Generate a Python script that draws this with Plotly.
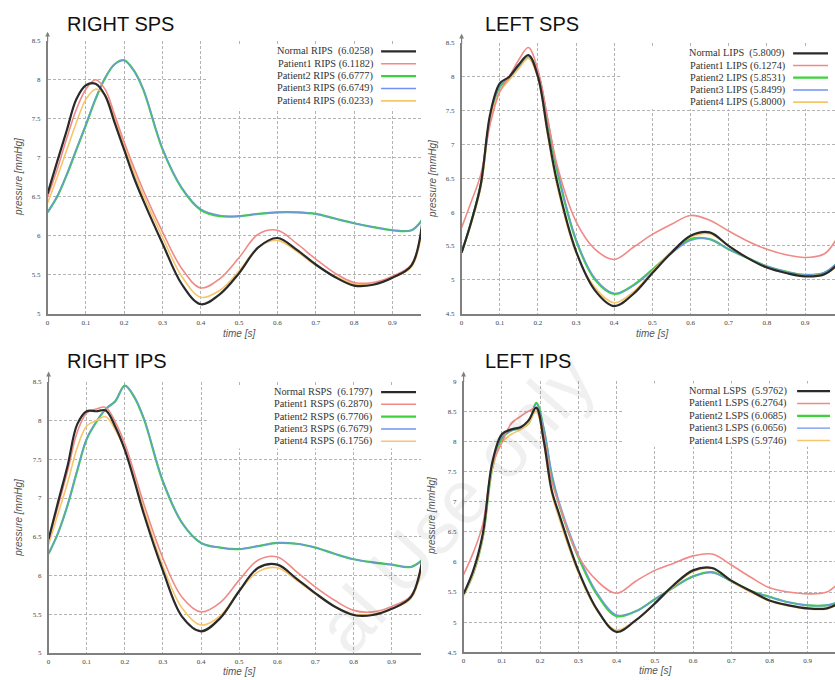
import plotly.graph_objects as go

W, H = 835, 680

# ---------------- data ----------------
T = [0, 0.025, 0.05, 0.075, 0.1, 0.125, 0.15, 0.175, 0.2, 0.225, 0.25, 0.3, 0.35, 0.4,
     0.45, 0.5, 0.55, 0.6, 0.65, 0.7, 0.75, 0.8, 0.85, 0.9, 0.95, 0.98]
T_D = [0, 0.025, 0.05, 0.075, 0.1, 0.125, 0.15, 0.17, 0.19, 0.21, 0.23, 0.25, 0.3, 0.35, 0.4,
       0.45, 0.5, 0.55, 0.6, 0.65, 0.7, 0.75, 0.8, 0.85, 0.9, 0.95, 0.98]

series_names = ["Normal", "Patient1", "Patient2", "Patient3", "Patient4"]

# RIGHT SPS (RIPS)
rips_normal = [6.54, 6.95, 7.35, 7.75, 7.93, 7.95, 7.80, 7.45, 7.10, 6.75, 6.45, 5.90, 5.38, 5.12,
               5.25, 5.52, 5.85, 5.97, 5.82, 5.63, 5.47, 5.36, 5.37, 5.46, 5.62, 6.25]
rips_p1 = [6.50, 6.85, 7.25, 7.62, 7.88, 8.00, 7.88, 7.55, 7.20, 6.88, 6.58, 6.05, 5.58, 5.33,
           5.45, 5.72, 6.02, 6.07, 5.90, 5.70, 5.52, 5.40, 5.40, 5.48, 5.63, 6.22]
rips_p2 = [6.30, 6.50, 6.78, 7.10, 7.42, 7.75, 8.02, 8.20, 8.25, 8.12, 7.87, 7.11, 6.61, 6.33,
           6.25, 6.25, 6.28, 6.30, 6.30, 6.28, 6.22, 6.16, 6.11, 6.07, 6.07, 6.22]
rips_p3 = [6.30, 6.51, 6.79, 7.11, 7.43, 7.76, 8.03, 8.20, 8.25, 8.12, 7.88, 7.12, 6.62, 6.34,
           6.26, 6.25, 6.28, 6.30, 6.30, 6.28, 6.22, 6.16, 6.11, 6.07, 6.07, 6.22]
rips_p4 = [6.42, 6.75, 7.10, 7.45, 7.75, 7.88, 7.80, 7.50, 7.15, 6.82, 6.52, 5.98, 5.48, 5.21,
           5.30, 5.55, 5.85, 5.94, 5.80, 5.62, 5.48, 5.38, 5.38, 5.46, 5.60, 6.15]
rips_labels = ["Normal RIPS\u00a0\u00a0(6.0258)", "Patient1 RIPS (6.1182)", "Patient2 RIPS (6.6777)",
               "Patient3 RIPS (6.6749)", "Patient4 RIPS (6.0233)"]

# LEFT SPS (LIPS)
lips_normal = [5.40, 5.85, 6.40, 7.45, 7.90, 8.00, 8.18, 8.32, 8.00, 7.20, 6.45, 5.42, 4.84, 4.61,
               4.79, 5.10, 5.40, 5.65, 5.70, 5.50, 5.32, 5.18, 5.10, 5.05, 5.08, 5.20]
lips_p1 = [5.77, 6.15, 6.55, 7.30, 7.78, 8.00, 8.25, 8.43, 8.10, 7.40, 6.70, 5.86, 5.45, 5.30,
           5.48, 5.67, 5.82, 5.95, 5.88, 5.72, 5.57, 5.45, 5.37, 5.33, 5.38, 5.58]
lips_p2 = [5.40, 5.85, 6.40, 7.40, 7.85, 7.98, 8.15, 8.30, 8.05, 7.35, 6.62, 5.58, 5.00, 4.79,
           4.92, 5.15, 5.40, 5.60, 5.60, 5.45, 5.32, 5.20, 5.12, 5.07, 5.10, 5.22]
lips_p3 = [5.40, 5.86, 6.42, 7.42, 7.86, 7.98, 8.15, 8.30, 8.06, 7.38, 6.66, 5.60, 5.02, 4.80,
           4.91, 5.14, 5.39, 5.58, 5.60, 5.45, 5.32, 5.20, 5.12, 5.08, 5.11, 5.23]
lips_p4 = [5.40, 5.83, 6.35, 7.35, 7.78, 7.95, 8.12, 8.27, 7.98, 7.15, 6.40, 5.40, 4.88, 4.66,
           4.82, 5.12, 5.42, 5.63, 5.68, 5.50, 5.32, 5.18, 5.10, 5.06, 5.08, 5.18]
lips_labels = ["Normal LIPS\u00a0\u00a0(5.8009)", "Patient1 LIPS (6.1274)", "Patient2 LIPS (5.8531)",
               "Patient3 LIPS (5.8499)", "Patient4 LIPS (5.8000)"]

# RIGHT IPS (RSPS)
rsps_normal = [6.47, 6.95, 7.42, 7.95, 8.12, 8.12, 8.13, 7.92, 7.62, 7.22, 6.79, 6.06, 5.47, 5.28,
               5.45, 5.80, 6.10, 6.14, 5.96, 5.77, 5.60, 5.49, 5.49, 5.57, 5.72, 6.20]
rsps_p1 = [6.45, 6.90, 7.35, 7.85, 8.10, 8.15, 8.17, 7.98, 7.70, 7.32, 6.92, 6.22, 5.72, 5.53,
           5.65, 5.94, 6.20, 6.24, 6.05, 5.85, 5.68, 5.55, 5.53, 5.60, 5.74, 6.18]
rsps_p2 = [6.28, 6.55, 6.91, 7.35, 7.76, 7.98, 8.15, 8.25, 8.45, 8.30, 8.02, 7.21, 6.68, 6.42,
           6.36, 6.34, 6.38, 6.42, 6.41, 6.36, 6.28, 6.21, 6.17, 6.14, 6.11, 6.20]
rsps_p3 = [6.28, 6.55, 6.92, 7.36, 7.77, 7.99, 8.15, 8.25, 8.45, 8.31, 8.03, 7.22, 6.68, 6.42,
           6.36, 6.34, 6.38, 6.42, 6.41, 6.36, 6.28, 6.21, 6.17, 6.14, 6.11, 6.20]
rsps_p4 = [6.40, 6.80, 7.20, 7.65, 7.93, 8.00, 8.05, 7.88, 7.62, 7.25, 6.85, 6.12, 5.58, 5.36,
           5.48, 5.80, 6.05, 6.10, 5.94, 5.76, 5.60, 5.50, 5.50, 5.57, 5.70, 6.12]
rsps_labels = ["Normal RSPS\u00a0\u00a0(6.1797)", "Patient1 RSPS (6.2870)", "Patient2 RSPS (6.7706)",
               "Patient3 RSPS (6.7679)", "Patient4 RSPS (6.1756)"]

# LEFT IPS (LSPS)
lsps_normal = [5.47, 5.85, 6.46, 7.65, 8.12, 8.20, 8.24, 8.35, 8.56, 8.00, 7.20, 6.79, 5.86, 5.20,
               4.84, 5.03, 5.31, 5.62, 5.86, 5.90, 5.69, 5.52, 5.36, 5.28, 5.23, 5.23, 5.31]
lsps_p1 = [5.79, 6.15, 6.62, 7.60, 7.98, 8.30, 8.42, 8.50, 8.55, 8.10, 7.35, 6.95, 6.10, 5.68,
           5.48, 5.68, 5.86, 5.98, 6.10, 6.13, 5.95, 5.75, 5.57, 5.50, 5.47, 5.50, 5.65]
lsps_p2 = [5.45, 5.80, 6.40, 7.55, 8.05, 8.18, 8.22, 8.30, 8.64, 8.20, 7.45, 6.95, 6.08, 5.45,
           5.10, 5.18, 5.38, 5.58, 5.76, 5.83, 5.68, 5.52, 5.42, 5.33, 5.28, 5.28, 5.33]
lsps_p3 = [5.45, 5.80, 6.40, 7.58, 8.08, 8.18, 8.22, 8.30, 8.62, 8.22, 7.50, 7.00, 6.12, 5.48,
           5.12, 5.18, 5.38, 5.58, 5.76, 5.82, 5.68, 5.52, 5.42, 5.33, 5.28, 5.28, 5.34]
lsps_p4 = [5.45, 5.80, 6.40, 7.55, 7.98, 8.12, 8.20, 8.30, 8.50, 7.95, 7.15, 6.72, 5.82, 5.18,
           4.87, 5.03, 5.30, 5.60, 5.84, 5.89, 5.68, 5.50, 5.35, 5.27, 5.22, 5.22, 5.30]
lsps_labels = ["Normal LSPS\u00a0\u00a0(5.9762)", "Patient1 LSPS (6.2764)", "Patient2 LSPS (6.0685)",
               "Patient3 LSPS (6.0656)", "Patient4 LSPS (5.9746)"]

x_ticks = [0, 0.1, 0.2, 0.3, 0.4, 0.5, 0.6, 0.7, 0.8, 0.9]
watermark_text = "al Use only"

# ---------------- styling ----------------
colors = ["#2a2a2a", "#f08a86", "#3ad43a", "#7390f0", "#f7c56a"]
widths = [2.2, 1.6, 2.2, 1.4, 1.6]
opac = [1, 1, 1, 0.85, 1]
draw_order = [2, 3, 4, 1, 0]


def px(x):
    return x / W


def py(y):
    return 1 - y / H


panels = [
    dict(title="RIGHT SPS", t=T, ys=[rips_normal, rips_p1, rips_p2, rips_p3, rips_p4], labels=rips_labels,
         xpx=(45.7, 420), x0px=45.7, xunit=384.0, ypx=(313.3, 37.3), yr=(5, 8.5), dy=0.5,
         title_xy=(63, 20), ytitle_xy=(17, 175), xtitle_y=333, arrow_y=28,
         box=(0.415, 7.63, 8.46), leg_x=374, line_x=(380, 415), rows=[48, 60.5, 73, 85.5, 98]),
    dict(title="LEFT SPS", t=T, ys=[lips_normal, lips_p1, lips_p2, lips_p3, lips_p4], labels=lips_labels,
         xpx=(460.7, 835), x0px=460.7, xunit=382.5, ypx=(313.3, 39.3), yr=(4.5, 8.5), dy=0.5,
         title_xy=(482, 20), ytitle_xy=(432, 177), xtitle_y=333, arrow_y=30,
         box=(0.416, 7.52, 8.45), leg_x=787, line_x=(793, 828), rows=[50, 62.3, 74.6, 87, 99.3]),
    dict(title="RIGHT IPS", t=T, ys=[rsps_normal, rsps_p1, rsps_p2, rsps_p3, rsps_p4], labels=rsps_labels,
         xpx=(46.7, 420), x0px=46.7, xunit=382.2, ypx=(656.7, 382.3), yr=(5, 8.5), dy=0.5,
         title_xy=(63, 361), ytitle_xy=(17, 520), xtitle_y=675, arrow_y=372,
         box=(0.415, 7.64, 8.46), leg_x=373, line_x=(380, 415), rows=[392.7, 405, 417.5, 430, 442.5]),
    dict(title="LEFT IPS", t=T_D, ys=[lsps_normal, lsps_p1, lsps_p2, lsps_p3, lsps_p4], labels=lsps_labels,
         xpx=(462.7, 835), x0px=462.7, xunit=383.3, ypx=(656, 381.7), yr=(4.5, 9), dy=0.5,
         title_xy=(482, 361), ytitle_xy=(431, 518), xtitle_y=674, arrow_y=372,
         box=(0.416, 7.91, 8.96), leg_x=789, line_x=(797, 830), rows=[391.7, 404.2, 416.7, 429.2, 441.7]),
]

fig = go.Figure()
annotations = []
shapes = []
tickfont = dict(family="Liberation Serif", size=7, color="#444")

for i, p in enumerate(panels):
    k = "" if i == 0 else str(i + 1)
    xa, ya = "x" + k, "y" + k
    xmax = (p["xpx"][1] - p["x0px"]) / p["xunit"]
    for j in draw_order:
        fig.add_trace(go.Scatter(
            x=p["t"], y=p["ys"][j], mode="lines", name=series_names[j],
            line=dict(color=colors[j], width=widths[j], shape="spline", smoothing=1.0),
            opacity=opac[j], xaxis=xa, yaxis=ya, showlegend=False, hoverinfo="skip"))
    axstyle = dict(showline=True, linecolor="#808080", linewidth=1.5, showgrid=True,
                   gridcolor="#b3b3b3", gridwidth=1, griddash="3px,2px", zeroline=False,
                   tickfont=tickfont, ticks="", fixedrange=True)
    fig.layout["xaxis" + k] = dict(domain=[px(p["xpx"][0]), px(p["xpx"][1])], range=[0, xmax],
                                   anchor=ya, tickvals=x_ticks, ticklabelstandoff=1, **axstyle)
    fig.layout["yaxis" + k] = dict(domain=[py(p["ypx"][0]), py(p["ypx"][1])], range=list(p["yr"]),
                                   anchor=xa, dtick=p["dy"], tick0=0, ticklabelstandoff=4, **axstyle)
    # white legend background box hiding grid
    bx0, by0, by1 = p["box"]
    shapes.append(dict(type="rect", xref=xa, yref=ya, x0=bx0, x1=1.2, y0=by0, y1=by1,
                       fillcolor="white", line=dict(width=0), layer="between"))
    # titles
    tx, ty = p["title_xy"]
    annotations.append(dict(text=p["title"], x=px(tx), y=py(ty), xref="paper", yref="paper",
                            xanchor="left", yanchor="middle", showarrow=False,
                            font=dict(family="Liberation Sans", size=20, color="#111")))
    yx, yy = p["ytitle_xy"]
    annotations.append(dict(text="<i>pressure [mmHg]</i>", x=px(yx), y=py(yy), xref="paper", yref="paper",
                            textangle=-90, showarrow=False, xanchor="center", yanchor="middle",
                            font=dict(family="Liberation Sans", size=10, color="#555")))
    annotations.append(dict(text="<i>time [s]</i>", x=0.5, xref=xa, y=py(p["xtitle_y"]), yref="paper",
                            showarrow=False, xanchor="center", yanchor="middle",
                            font=dict(family="Liberation Sans", size=10, color="#555")))
    # arrow at top of y axis
    annotations.append(dict(x=0, y=py(p["arrow_y"]), xref=xa, yref="paper", ax=0, ay=12,
                            showarrow=True, arrowhead=2, arrowsize=0.8, arrowwidth=1.2,
                            arrowcolor="#808080", text=""))
    # legend
    for j in range(5):
        ry = p["rows"][j]
        annotations.append(dict(text=p["labels"][j], x=px(p["leg_x"]), y=py(ry), xref="paper", yref="paper",
                                xanchor="right", yanchor="middle", showarrow=False,
                                font=dict(family="Liberation Serif", size=10.3, color="#333")))
        shapes.append(dict(type="line", xref="paper", yref="paper",
                           x0=px(p["line_x"][0]), x1=px(p["line_x"][1]), y0=py(ry), y1=py(ry),
                           line=dict(color=colors[j], width=widths[j])))

# faint watermark (visible part only)
annotations.append(dict(text=watermark_text, x=px(455), y=py(505), xref="paper", yref="paper",
                        textangle=-48, showarrow=False, xanchor="center", yanchor="middle",
                        font=dict(family="Liberation Sans", size=75, color="rgba(0,0,0,0.06)")))

fig.update_layout(width=W, height=H, margin=dict(l=0, r=0, t=0, b=0),
                  paper_bgcolor="white", plot_bgcolor="white",
                  annotations=annotations, shapes=shapes, showlegend=False)

fig.write_html("out.html", config={"displayModeBar": False},
               post_script="document.body.style.margin='0';document.body.style.overflow='hidden';")
